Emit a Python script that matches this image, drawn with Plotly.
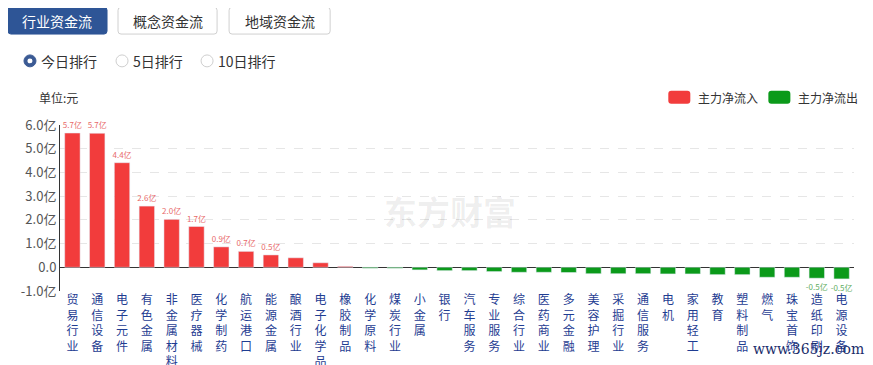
import plotly.graph_objects as go

categories = ["贸易行业", "通信设备", "电子元件", "有色金属", "非金属材料", "医疗器械", "化学制药",
              "航运港口", "能源金属", "酿酒行业", "电子化学品", "橡胶制品", "化学原料", "煤炭行业",
              "小金属", "银行", "汽车服务", "专业服务", "综合行业", "医药商业", "多元金融", "美容护理",
              "采掘行业", "通信服务", "电机", "家用轻工", "教育", "塑料制品", "燃气", "珠宝首饰",
              "造纸印刷", "电源设备"]
net_flow = [5.66, 5.65, 4.41, 2.58, 2.02, 1.72, 0.86, 0.67, 0.52, 0.40, 0.19, 0.04,
            -0.04, -0.04, -0.11, -0.14, -0.14, -0.18, -0.21, -0.21, -0.22, -0.27,
            -0.27, -0.27, -0.28, -0.28, -0.31, -0.31, -0.42, -0.42, -0.46, -0.49]
y_tick_vals = [-1, 0, 1, 2, 3, 4, 5, 6]
y_tick_text = ["-1.0亿", "0.0", "1.0亿", "2.0亿", "3.0亿", "4.0亿", "5.0亿", "6.0亿"]
tab_labels = ["行业资金流", "概念资金流", "地域资金流"]
radio_labels = ["今日排行", "5日排行", "10日排行"]
legend_labels = ["主力净流入", "主力净流出"]

RED = "#f23c3c"
GREEN = "#0b9a1a"
FONT = "Noto Sans CJK SC"

OFF = 8  # page body margin
W, H = 873 - OFF, 365 - OFF
L, R, T, B = 52, 19.4, 116.5, 73.5
PW, PH = W - L - R, H - T - B


def px(x):
    return (x - OFF - L) / PW


def py(y):
    return (H - B - (y - OFF)) / PH


def rrect(x0, y0, x1, y1, r):
    pts = [("M", x0 + r, y0), ("L", x1 - r, y0), ("Q", x1, y0, x1, y0 + r),
           ("L", x1, y1 - r), ("Q", x1, y1, x1 - r, y1), ("L", x0 + r, y1),
           ("Q", x0, y1, x0, y1 - r), ("L", x0, y0 + r), ("Q", x0, y0, x0 + r, y0)]
    s = ""
    for p in pts:
        cmd = p[0]
        coords = p[1:]
        parts = []
        for i in range(0, len(coords), 2):
            parts.append(f"{px(coords[i]):.5f},{py(coords[i+1]):.5f}")
        s += cmd + " ".join(parts) + " "
    return s + "Z"


def label(v):
    return f"{v:.1f}亿" if abs(v) >= 0.45 else ""


inflow = [v if v > 0 else None for v in net_flow]
outflow = [v if v < 0 else None for v in net_flow]

fig = go.Figure()
fig.add_trace(go.Bar(x=categories, y=inflow, marker_color=RED, name=legend_labels[0],
                     text=[label(v) if v > 0 else "" for v in net_flow],
                     textposition="outside", constraintext="none",
                     textfont=dict(size=8, color="#e86a6a", family=FONT),
                     cliponaxis=False, showlegend=False))
fig.add_trace(go.Bar(x=categories, y=outflow, marker_color=GREEN, name=legend_labels[1],
                     text=[label(v) if v < 0 else "" for v in net_flow],
                     textposition="outside", constraintext="none",
                     textfont=dict(size=8, color="#5fae5f", family=FONT),
                     cliponaxis=False, showlegend=False))

shapes = []
annotations = []

# tabs
tab_x = [(8, 107), (118, 217), (229, 330)]
for i, (a, b) in enumerate(tab_x):
    sel = i == 0
    shapes.append(dict(type="path", xref="paper", yref="paper", path=rrect(a, 6, b, 33, 3),
                       fillcolor="#2e5596" if sel else "white",
                       line=dict(color="#2e5596" if sel else "#d0d0d0", width=1), layer="above"))
    annotations.append(dict(xref="paper", yref="paper", x=px((a + b) / 2), y=py(20),
                            text=tab_labels[i], showarrow=False, xanchor="center", yanchor="middle",
                            font=dict(size=14, color="white" if sel else "#333", family=FONT)))

# radios
radio_pos = [30, 122, 207]
for i, cx in enumerate(radio_pos):
    r = 6
    if i == 0:
        shapes.append(dict(type="circle", xref="paper", yref="paper",
                           x0=px(cx - r), x1=px(cx + r), y0=py(60 + r), y1=py(60 - r),
                           fillcolor="#3b5a94", line=dict(color="#3b5a94", width=1)))
        shapes.append(dict(type="circle", xref="paper", yref="paper",
                           x0=px(cx - 2.5), x1=px(cx + 2.5), y0=py(60 + 2.5), y1=py(60 - 2.5),
                           fillcolor="white", line=dict(color="white", width=0)))
    else:
        shapes.append(dict(type="circle", xref="paper", yref="paper",
                           x0=px(cx - r), x1=px(cx + r), y0=py(60 + r), y1=py(60 - r),
                           fillcolor="white", line=dict(color="#cfcfcf", width=1)))
    annotations.append(dict(xref="paper", yref="paper", x=px(cx + 9), y=py(60),
                            text=radio_labels[i], showarrow=False, xanchor="left", yanchor="middle",
                            font=dict(size=14, color="#333", family=FONT)))

# unit label
annotations.append(dict(xref="paper", yref="paper", x=px(37), y=py(97), text="单位:元",
                        showarrow=False, xanchor="left", yanchor="middle",
                        font=dict(size=12, color="#333", family=FONT)))

# legend
leg = [(668, RED), (768, GREEN)]
for i, (lx, col) in enumerate(leg):
    shapes.append(dict(type="path", xref="paper", yref="paper", path=rrect(lx, 90, lx + 22, 103, 3),
                       fillcolor=col, line=dict(color=col, width=0)))
    annotations.append(dict(xref="paper", yref="paper", x=px(lx + 28), y=py(96.5),
                            text=legend_labels[i], showarrow=False, xanchor="left", yanchor="middle",
                            font=dict(size=12, color="#333", family=FONT)))

# watermarks
annotations.append(dict(xref="paper", yref="paper", x=px(450), y=py(211), text="<b>东方财富</b>",
                        showarrow=False, xanchor="center", yanchor="middle",
                        font=dict(size=33, color="rgba(0,0,0,0.07)", family=FONT)))
annotations.append(dict(xref="paper", yref="paper", x=px(866), y=py(350), text="www.365jz.com",
                        showarrow=False, xanchor="right", yanchor="middle",
                        font=dict(size=14, color="#1a2d6a", family="DejaVu Serif")))

fig.update_layout(
    width=W, height=H,
    margin=dict(l=L, r=R, t=T, b=B),
    paper_bgcolor="white", plot_bgcolor="white",
    barmode="overlay", bargap=0.38,
    shapes=shapes, annotations=annotations,
    font=dict(family=FONT),
    xaxis=dict(type="category", tickvals=categories,
               ticktext=["<br>".join(list(c)) for c in categories],
               tickfont=dict(size=12, color="#1f3d92", family=FONT),
               showline=False, ticks="", showgrid=False, automargin=False, fixedrange=True),
    yaxis=dict(range=[-1, 6], tickvals=y_tick_vals, ticktext=y_tick_text,
               tickfont=dict(size=13, color="#555", family=FONT),
               showline=True, linecolor="#333", linewidth=1,
               showgrid=True, gridcolor="#e6e6e6", griddash="dash", gridwidth=1,
               zeroline=True, zerolinecolor="#333", zerolinewidth=1,
               ticks="", automargin=False, fixedrange=True),
)

fig.write_html("out.html")
